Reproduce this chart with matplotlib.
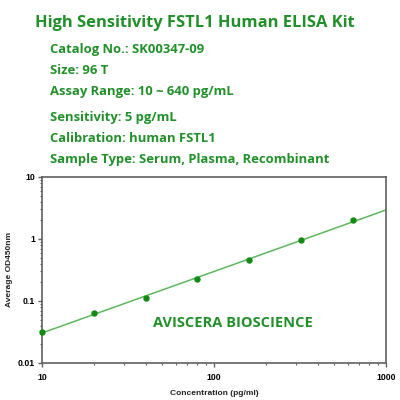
import numpy as np
import matplotlib.pyplot as plt
from matplotlib.ticker import LogLocator, NullFormatter, FixedFormatter, FixedLocator

# standard curve readings
conc = [10, 20, 40, 80, 160, 320, 640]
od = [0.032, 0.064, 0.11, 0.229, 0.46, 0.96, 2.0]

title = "High Sensitivity FSTL1 Human ELISA Kit"
info = [
    "Catalog No.: SK00347-09",
    "Size: 96 T",
    "Assay Range: 10 ~ 640 pg/mL",
    "Sensitivity: 5 pg/mL",
    "Calibration: human FSTL1",
    "Sample Type: Serum, Plasma, Recombinant",
]
info_y = [49, 71, 91, 117, 138, 159]
green = "#22902a"

fig = plt.figure(figsize=(4, 4), dpi=100)
fig.text(0.4875, 1 - 23 / 400, title, ha="center", va="center", color=green,
         fontsize=11.85, fontweight="bold", family="Open Sans")
for t, y in zip(info, info_y):
    fig.text(50 / 400, 1 - y / 400, t, ha="left", va="center", color=green,
             fontsize=9.4, fontweight="bold", family="Open Sans")

ax = fig.add_axes([42 / 400, 1 - 363 / 400, 344 / 400, 186 / 400])

# fit in log-log space
p = np.polyfit(np.log10(conc), np.log10(od), 1)
xs = np.logspace(1, 3, 200)
ax.plot(xs, 10 ** np.polyval(p, np.log10(xs)), color="#5cb85c", lw=1.1, zorder=2)
ax.plot(conc, od, "o", color="#138a13", ms=3.6, zorder=3, clip_on=False)

ax.set_xscale("log")
ax.set_yscale("log")
ax.set_xlim(10, 1000)
ax.set_ylim(0.01, 10)
ax.xaxis.set_major_locator(FixedLocator([10, 100, 1000]))
ax.xaxis.set_major_formatter(FixedFormatter(["10", "100", "1000"]))
ax.yaxis.set_major_locator(FixedLocator([0.01, 0.1, 1, 10]))
ax.yaxis.set_major_formatter(FixedFormatter(["0.01", "0.1", "1", "10"]))
ax.xaxis.set_minor_locator(LogLocator(base=10, subs=np.arange(2, 10)))
ax.yaxis.set_minor_locator(LogLocator(base=10, subs=np.arange(2, 10)))
ax.xaxis.set_minor_formatter(NullFormatter())
ax.yaxis.set_minor_formatter(NullFormatter())

for s in ax.spines.values():
    s.set_color("#606060")
    s.set_linewidth(1.2)
ax.tick_params(which="major", length=3, width=1, color="#606060", labelsize=6.3, pad=2)
ax.tick_params(axis="x", which="major", pad=4)
ax.tick_params(which="minor", length=1.5, width=0.8, color="#606060")
for lab in ax.get_xticklabels() + ax.get_yticklabels():
    lab.set_fontweight("bold")
    lab.set_family("Liberation Sans")

ax.set_xlabel("Concentration (pg/ml)", fontsize=6, fontweight="bold",
              family="Liberation Sans", color="#222222")
ax.set_ylabel("Average OD450nm", fontsize=6, fontweight="bold",
              family="Liberation Sans", color="#222222")
ax.xaxis.set_label_coords(0.5, -(390 - 363) / 186)
ax.yaxis.set_label_coords(-(42 - 13) / 344, 0.5)

ax.text(0.555, 0.215, "AVISCERA BIOSCIENCE", transform=ax.transAxes, ha="center",
        va="center", color=green, fontsize=10.5, fontweight="bold", family="Open Sans")

fig.savefig("out.png", dpi=100)
